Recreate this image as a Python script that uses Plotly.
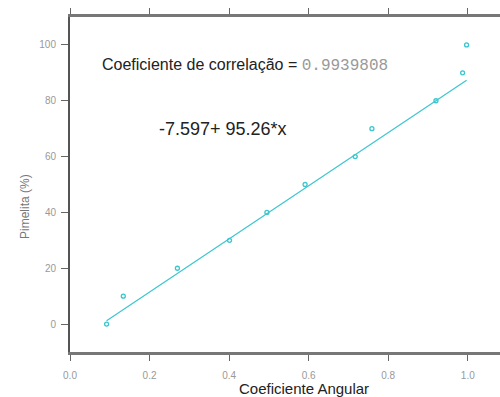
import plotly.graph_objects as go

# Data
coef_angular = [0.092, 0.134, 0.270, 0.401, 0.495, 0.591, 0.717, 0.759, 0.920, 0.987, 0.997]
pimelita = [0, 10, 20, 30, 40, 50, 60, 70, 80, 90, 100]
intercept = -7.597
slope = 95.26
correlation = "0.9939808"
x_ticks = [0.0, 0.2, 0.4, 0.6, 0.8, 1.0]
y_ticks = [0, 20, 40, 60, 80, 100]

cyan = "#3cc6cf"

fit_x = [min(coef_angular), max(coef_angular)]
fit_y = [intercept + slope * v for v in fit_x]

fig = go.Figure()
fig.add_trace(go.Scatter(x=fit_x, y=fit_y, mode="lines",
                         line=dict(color=cyan, width=1.2), showlegend=False))
fig.add_trace(go.Scatter(x=coef_angular, y=pimelita, mode="markers",
                         marker=dict(symbol="circle-open", size=4, color=cyan,
                                     line=dict(width=1.3, color=cyan)),
                         showlegend=False))

fig.update_layout(
    width=500, height=397,
    margin=dict(l=70, r=0, t=17, b=45),
    paper_bgcolor="white", plot_bgcolor="white",
    font=dict(family="Arial, Liberation Sans, sans-serif"),
    xaxis=dict(range=[0, 1.081], tickvals=x_ticks, ticktext=[f"{v:.1f}" for v in x_ticks],
               showgrid=False, zeroline=False, showline=True, linewidth=3, linecolor="#777",
               mirror="allticks", ticks="outside", ticklen=6, tickwidth=1, tickcolor="#666",
               tickfont=dict(size=10, color="#999"), ticklabelstandoff=6),
    yaxis=dict(range=[-10, 110], tickvals=y_ticks,
               showgrid=False, zeroline=False, showline=True, linewidth=2, linecolor="#555",
               mirror=False, ticks="outside", ticklen=7, tickwidth=1, tickcolor="#666",
               tickfont=dict(size=10, color="#999"), ticklabelstandoff=3),
    annotations=[
        dict(xref="paper", yref="paper", x=(304 - 70) / 430, y=-(388 - 352) / 335,
             text="Coeficiente Angular", showarrow=False, xanchor="center", yanchor="middle",
             font=dict(size=15, color="#222")),
        dict(xref="paper", yref="paper", x=-(70 - 25) / 430, y=(352 - 207) / 335,
             text="Pimelita (%)", showarrow=False, textangle=-90, xanchor="center", yanchor="middle",
             font=dict(size=12, color="#777")),
        dict(xref="paper", yref="paper", x=(100 - 70) / 430, y=(352 - 65) / 335,
             text="Coeficiente de correlação = "
                  + f"<span style='font-family:Liberation Mono, Courier New, monospace;color:#999'>{correlation}</span>",
             showarrow=False, xanchor="left", yanchor="middle",
             font=dict(size=16, color="#222")),
        dict(xref="paper", yref="paper", x=(157 - 70) / 430, y=(352 - 129) / 335,
             text=f"{intercept:.3f}+ {slope:.2f}*x",
             showarrow=False, xanchor="left", yanchor="middle",
             font=dict(size=18, color="#222")),
    ],
)

fig.write_html("out.html")
